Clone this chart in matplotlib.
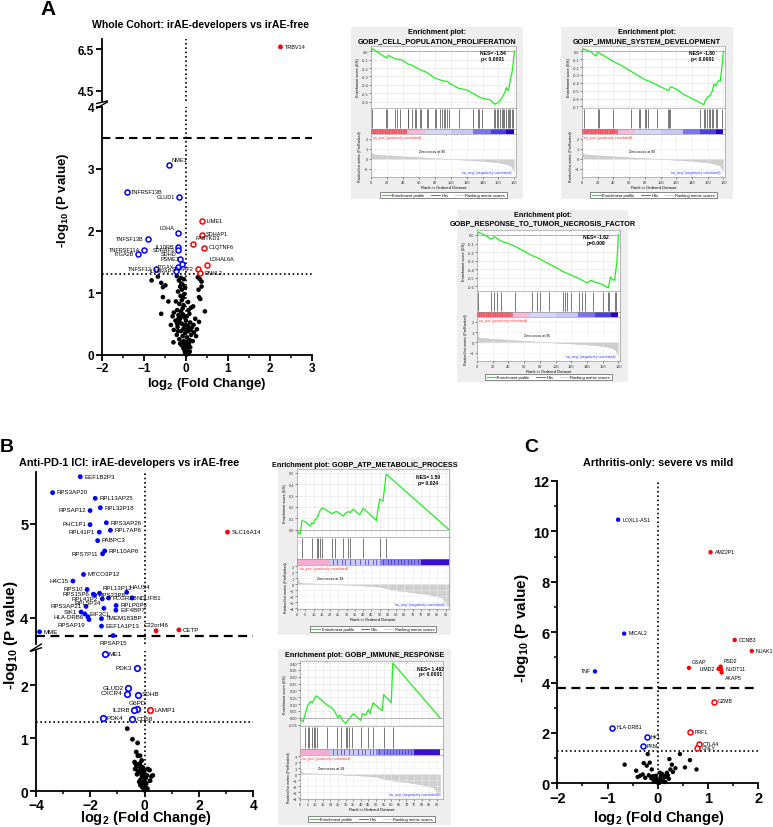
import numpy as np
import matplotlib.pyplot as plt
from matplotlib.patches import Rectangle
from matplotlib.lines import Line2D

plt.rcParams['font.family'] = ['Liberation Sans', 'DejaVu Sans']
plt.rcParams['mathtext.fontset'] = 'custom'
plt.rcParams['mathtext.rm'] = 'Liberation Sans:bold'
plt.rcParams['mathtext.bf'] = 'Liberation Sans:bold'
plt.rcParams['mathtext.default'] = 'bf'

W, H = 773, 828
fig = plt.figure(figsize=(W / 100, H / 100), dpi=100)

BLUE = '#0000ff'
RED = '#ff0000'

# ---------------- data: panel A volcano (whole cohort) ----------------
a_top_genes = ['TRBV14']
a_top_x = [2.25]
a_top_y = [6.62]
a_dn_genes = ['NME1', 'TNFRSF13B', 'GLUD1', 'LDHA', 'TNFSF13B', 'IL10RB', 'TNFRSF11A',
              'SDHAF3', 'ITGA2B', 'SDHD', 'PSME1', 'ITGAX', 'TNFSF12', 'IL18RAP']
a_dn_x = [-0.40, -1.41, -0.16, -0.20, -0.90, -0.19, -0.99, -0.18, -1.15, -0.15, -0.10, -0.20, -0.71, -0.25]
a_dn_y = [3.06, 2.63, 2.55, 1.96, 1.87, 1.74, 1.69, 1.69, 1.63, 1.54, 1.46, 1.41, 1.38, 1.35]
a_up_genes = ['LIME1', 'SDHAP1', 'FASTKD3', 'C1QTNF6', 'LDHAL6A', 'SDHAF2', 'PIWIL2']
a_up_x = [0.39, 0.37, 0.16, 0.44, 0.49, 0.29, 0.33]
a_up_y = [2.16, 1.94, 1.79, 1.73, 1.45, 1.38, 1.32]
a_ns_x = [-0.82, -0.67, -0.59, -0.22, -0.12, -0.05, 0.33, 0.37, -0.17, 0.28,
          -0.55, -0.49, -0.14, -0.10, -0.08, -0.19, 0.37, 0.30, -0.02,
          -0.55, -0.42, 0.31, 0.34, -0.13, -0.10, -0.07, -0.16, 0.05, -0.04,
          -0.59, -0.29, 0.45, 0.12, 0.17, -0.21, -0.12, -0.08, 0.02, -0.18, -0.32, 0.08, -0.06,
          0.31, -0.36, -0.25, -0.20, -0.14, -0.10, -0.06, 0.00, 0.04, 0.10, 0.14, 0.22, 0.26, -0.29, -0.03,
          -0.30, 0.19, -0.22, -0.16, -0.12, -0.08, -0.05, -0.02, 0.02, 0.05, 0.08, 0.12, 0.16, -0.19, 0.24, -0.10,
          -0.10, -0.06, -0.03, 0.00, 0.02, 0.04, 0.07, -0.14, 0.10, -0.01, 0.01, -0.02, 0.03, 0.06, -0.05, 0.09,
          -0.15, -0.18, -0.13, 0.06, -0.24, -0.11, 0.07, -0.07, 0.00, 0.03, -0.04, 0.11, -0.21, 0.18]
a_ns_y = [1.20, 1.26, 1.16, 1.27, 1.24, 1.22, 1.22, 1.18, 1.20, 1.25,
          1.09, 1.12, 1.10, 1.05, 1.13, 1.02, 1.10, 1.05, 1.08,
          0.93, 0.86, 0.93, 0.90, 0.95, 0.88, 0.92, 0.82, 0.85, 0.98,
          0.66, 0.68, 0.70, 0.76, 0.78, 0.72, 0.70, 0.75, 0.62, 0.64, 0.62, 0.66, 0.80,
          0.53, 0.48, 0.55, 0.45, 0.58, 0.50, 0.42, 0.55, 0.47, 0.52, 0.44, 0.58, 0.41, 0.40, 0.60,
          0.20, 0.36, 0.32, 0.25, 0.38, 0.30, 0.22, 0.35, 0.28, 0.38, 0.24, 0.32, 0.22, 0.38, 0.30, 0.20,
          0.15, 0.10, 0.05, 0.02, 0.08, 0.14, 0.18, 0.18, 0.12, 0.12, 0.00, 0.03, 0.06, 0.02, 0.17, 0.05,
          0.52, 0.58, 0.62, 0.72, 0.86, 1.15, 0.44, 0.65, 0.40, 0.20, 0.48, 0.40, 0.50, 0.48]

# ---------------- data: panel B volcano (anti-PD-1) ----------------
b_top_dn_genes = ['EEF1B2P3', 'RPS3AP20', 'RPL13AP25', 'RPSAP12', 'RPL32P18', 'PHC1P1', 'RPS3AP26',
                  'RPL41P1', 'RPL7AP6', 'PABPC3', 'RPL10AP6', 'RPS7P11', 'MTCO3P12', 'H4C15', 'RPS10',
                  'RPL13P12', 'HAUS4', 'RPS15P6', 'RPS23P8', 'NDUFB1', 'RPL41P2', 'FCGR2B', 'RPS3AP21',
                  'RPL5P34', 'RPLP0P6', 'EIF4BP7', 'SIK1', 'EIF3CL', 'HLA-DRB6', 'TMEM183BP', 'RPSAP19',
                  'EEF1A1P13', 'MME', 'RPSAP15']
b_top_dn_x = [-2.37, -3.39, -1.82, -2.01, -1.63, -2.01, -1.41, -1.67, -1.26, -1.73, -1.47, -1.55,
              -2.25, -2.64, -2.12, -1.66, -0.66, -1.89, -1.84, -0.46, -1.56, -1.33, -2.16, -1.50,
              -1.05, -1.06, -2.34, -2.20, -2.09, -1.59, -2.05, -1.59, -3.87, -1.16]
b_top_dn_y = [5.50, 5.33, 5.27, 5.14, 5.17, 4.99, 5.01, 4.91, 4.93, 4.82, 4.71, 4.68, 4.46, 4.39,
              4.30, 4.26, 4.27, 4.25, 4.24, 4.21, 4.20, 4.21, 4.12, 4.10, 4.13, 4.08, 4.06, 4.04,
              4.01, 3.99, 3.98, 3.91, 3.85, 3.81]
b_top_up_genes = ['C22orf46', 'CETP', 'SLC16A14']
b_top_up_x = [0.42, 1.26, 3.05]
b_top_up_y = [3.86, 3.87, 4.91]
b_dn_genes = ['ME1', 'PDK3', 'GLUD2', 'CXCR4', 'SDHB', 'G6PD', 'IL2RB', 'PDK4', 'CD68']
b_dn_x = [-1.47, -0.30, -0.61, -0.66, -0.26, -0.28, -0.39, -1.55, -0.45]
b_dn_y = [2.58, 2.32, 1.94, 1.84, 1.82, 1.55, 1.53, 1.38, 1.36]
b_up_genes = ['LAMP1']
b_up_x = [0.20]
b_up_y = [1.53]
b_ns_x = [-0.64, -0.45, -0.26, -0.31, -0.25, -0.17, -0.37, -0.33, -0.30, -0.22, -0.14, -0.35,
          -0.24, -0.19, -0.28, -0.10, -0.05, -0.08, -0.15, -0.20, -0.12, -0.02, -0.06, -0.03,
          -0.09, 0.00, -0.04, 0.04, 0.08, -0.14, -0.18, -0.11, -0.02, -0.07, 0.06, -0.01, -0.16,
          0.02, 0.25, 0.30, 0.18, 0.12, 0.20, 0.10]
b_ns_y = [1.18, 0.98, 0.91, 0.74, 0.67, 0.67, 0.55, 0.52, 0.48, 0.47, 0.47, 0.42,
          0.38, 0.36, 0.32, 0.30, 0.28, 0.25, 0.22, 0.18, 0.15, 0.20, 0.10, 0.05,
          0.08, 0.02, 0.14, 0.25, 0.30, 0.40, 0.52, 0.58, 0.38, 0.45, 0.15, 0.33, 0.12,
          0.10, 0.28, 0.30, 0.40, 0.42, 0.20, 0.05]

# ---------------- data: panel C volcano (arthritis-only) ----------------
c_top_dn_genes = ['LOXL1-AS1', 'MICAL2', 'TNF']
c_top_dn_x = [-0.79, -0.67, -1.25]
c_top_dn_y = [10.46, 5.94, 4.44]
c_top_up_genes = ['AMZ2P1', 'CCNB3', 'NUAK1', 'PSD2', 'GSAP', 'LIMD2', 'NUDT11', 'AKAP5']
c_top_up_x = [1.05, 1.53, 1.87, 1.25, 0.62, 1.21, 1.26, 1.27]
c_top_up_y = [9.17, 5.69, 5.25, 4.63, 4.58, 4.54, 4.51, 4.40]
c_dn_genes = ['HLA-DRB1', 'HK1', 'PKM']
c_dn_x = [-0.91, -0.22, -0.30]
c_dn_y = [2.21, 1.84, 1.47]
c_up_genes = ['GZMB', 'PRF1', 'CTLA4', 'GNLY']
c_up_x = [1.12, 0.64, 0.81, 0.79]
c_up_y = [3.24, 2.02, 1.55, 1.40]
c_ns_x = [-0.20, -0.66, -0.43, 0.44, 0.23, 0.54, 0.64, 0.77, 0.28, -0.30, -0.28, -0.22, -0.16,
          -0.12, -0.35, -0.25, -0.18, -0.10, -0.05, -0.08, -0.02, 0.00, 0.03, 0.05, 0.08, 0.12,
          0.15, 0.18, 0.10, 0.20, 0.25, 0.30, 0.35, 0.04, -0.04, 0.15, -0.13, 0.06, 0.22, -0.40]
c_ns_y = [1.16, 0.74, 0.50, 1.16, 0.96, 0.63, 0.92, 0.55, 0.74, 0.35, 0.80, 0.70, 0.82,
          0.55, 0.30, 0.22, 0.32, 0.28, 0.18, 0.08, 0.04, 0.10, 0.02, 0.15, 0.38, 0.30,
          0.25, 0.42, 0.12, 0.32, 0.55, 0.45, 0.60, 0.42, 0.30, 0.05, 0.20, 0.28, 0.18, 0.25]

# label placement (style, not data)
a_side = {'TRBV14': 'r', 'NME1': 'ur', 'TNFRSF13B': 'r', 'GLUD1': 'l', 'LDHA': 'ul', 'TNFSF13B': 'l',
          'IL10RB': 'l', 'TNFRSF11A': 'l', 'SDHAF3': 'l', 'ITGA2B': 'l', 'SDHD': 'ul', 'PSME1': 'ul',
          'ITGAX': 'l', 'TNFSF12': 'l', 'IL18RAP': 'l', 'LIME1': 'r', 'SDHAP1': 'r', 'FASTKD3': 'ur',
          'C1QTNF6': 'r', 'LDHAL6A': 'ur', 'SDHAF2': 'l', 'PIWIL2': 'r'}
b_left = {'RPSAP12', 'PHC1P1', 'RPL41P1', 'RPS7P11', 'H4C15', 'RPS10', 'RPS15P6', 'RPL41P2',
          'RPS3AP21', 'SIK1', 'HLA-DRB6', 'PDK3', 'GLUD2', 'CXCR4', 'IL2RB'}
b_special = {'RPL13P12': 'ur', 'HAUS4': 'ur', 'RPL5P34': 'ul', 'RPSAP15': 'b', 'C22orf46': 'a',
             'G6PD': 'a', 'RPSAP19': 'dl', 'HLA-DRB6': 'l'}
c_side = {'TNF': 'l', 'LIMD2': 'l', 'PSD2': 'ur', 'GSAP': 'ur', 'AKAP5': 'dr'}

# ---------------- data: GSEA plots ----------------
a_rank_x = [0, 3, 10, 30, 60, 95, 120, 140, 160, 170, 176, 179, 180]
a_rank_y = [0.6, 0.45, 0.4, 0.3, 0.15, 0.0, -0.1, -0.2, -0.35, -0.5, -0.7, -1.2, -1.3]
a_bar_edges = [0, 45, 68, 100, 128, 150, 170, 180]
a_bar_stripes = [2, 5, 8, 11, 14, 17, 20, 23, 26, 29, 32, 35, 38, 41, 44]
b_rank_x = [0, 1, 3, 20, 40, 50, 60, 70, 80, 88, 91, 92]
b_rank_y = [1.3, 0.4, 0.2, 0.05, -0.2, -0.4, -1.0, -1.3, -1.7, -2.2, -3.5, -3.6]
b_bar_edges = [0, 20, 50, 75, 92]
b_bar_stripes = [22, 24, 27, 29, 32, 35, 38, 41, 43, 46, 48, 52, 55, 57, 59, 61, 63, 65, 67, 69, 71, 73]

g1_es_x = [0, 2, 10, 19, 20, 22, 30, 38, 40, 46, 52, 62, 70, 80, 90, 96, 100, 110, 120, 128, 135,
           140, 150, 155, 157, 160, 164, 168, 170, 172, 173, 175, 177, 178, 180]
g1_es_y = [0.0, 0.03, -0.02, -0.08, -0.07, -0.05, -0.09, -0.10, -0.11, -0.15, -0.17, -0.22, -0.25,
           -0.32, -0.35, -0.36, -0.39, -0.44, -0.46, -0.50, -0.54, -0.56, -0.58, -0.63, -0.62, -0.61,
           -0.56, -0.49, -0.43, -0.47, -0.45, -0.33, -0.25, -0.18, 0.0]
g1_hits = [1, 19, 20, 30, 33, 37, 46, 47, 52, 55, 57, 62, 63, 70, 72, 80, 82, 87, 89, 91, 93, 95, 98,
           110, 128, 134, 136, 139, 154, 156, 158, 160, 162, 164, 166, 167, 169, 172, 173, 175, 177, 178]
g2_es_x = [0, 2, 10, 18, 20, 30, 40, 50, 60, 70, 80, 90, 100, 108, 110, 113, 120, 130, 140, 148, 155,
           157, 160, 163, 166, 168, 170, 172, 174, 176, 178, 180]
g2_es_y = [0.0, 0.03, 0.0, -0.06, -0.01, -0.07, -0.13, -0.18, -0.24, -0.30, -0.36, -0.40, -0.45, -0.49,
           -0.50, -0.45, -0.48, -0.55, -0.60, -0.64, -0.68, -0.62, -0.58, -0.56, -0.50, -0.42, -0.44,
           -0.40, -0.37, -0.38, -0.2, 0.0]
g2_hits = [2, 20, 21, 40, 62, 73, 74, 80, 82, 84, 96, 110, 111, 112, 150, 155, 157, 159, 161, 163,
           165, 167, 170, 172, 178]
g3_es_x = [0, 2, 10, 18, 22, 30, 40, 50, 60, 70, 80, 90, 100, 110, 120, 130, 140, 145, 150, 160, 167,
           170, 172, 175, 178, 180]
g3_es_y = [0.0, 0.03, 0.0, -0.05, -0.02, -0.07, -0.10, -0.14, -0.19, -0.24, -0.28, -0.33, -0.38, -0.43,
           -0.47, -0.51, -0.56, -0.53, -0.55, -0.58, -0.62, -0.49, -0.52, -0.53, -0.32, 0.0]
g3_hits = [1, 18, 22, 26, 31, 48, 70, 76, 80, 91, 110, 112, 115, 120, 130, 134, 138, 148, 160, 167,
           168, 175, 177]
g4_es_x = [0, 1, 2, 3, 5, 8, 9, 10, 11, 12, 14, 15, 17, 21, 22, 24, 28, 29, 31, 32, 34, 38, 40, 48,
           50, 52, 54, 92]
g4_es_y = [0.0, -0.03, -0.04, 0.08, 0.07, 0.03, 0.06, 0.05, 0.09, 0.10, 0.17, 0.19, 0.18, 0.14, 0.15,
           0.16, 0.12, 0.14, 0.16, 0.15, 0.18, 0.13, 0.19, 0.08, 0.27, 0.25, 0.49, 0.0]
g4_hits = [3, 9, 12, 13, 14, 15, 21, 23, 28, 31, 32, 40, 50, 54]
g5_es_x = [0, 1, 2, 5, 7, 8, 10, 11, 13, 18, 20, 22, 25, 26, 28, 30, 35, 38, 40, 41, 43, 45, 46, 48,
           52, 54, 55, 60, 61, 92]
g5_es_y = [0.0, -0.02, -0.03, 0.09, 0.12, 0.11, 0.15, 0.16, 0.14, 0.09, 0.08, 0.06, 0.0, 0.02, -0.02,
           -0.04, 0.03, 0.0, -0.02, 0.03, 0.02, 0.06, 0.03, 0.11, 0.07, 0.05, 0.17, 0.11, 0.40, 0.0]
g5_hits = [3, 5, 6, 8, 9, 10, 11, 18, 24, 27, 30, 31, 32, 34, 40, 45, 48, 55, 61]

a_bar_colors = ['#f56d7c', '#f6b9dc', '#d8d6f7', '#c9c7f5', '#7b74ec', '#4a3de2', '#2400c8']
b_bar_colors = ['#f6abd2', '#cccbf4', '#8c86ea', '#3a10d0']


def add_ax(x0, y0, x1, y1):
    return fig.add_axes([x0 / W, 1 - y1 / H, (x1 - x0) / W, (y1 - y0) / H])


def ftext(x, y, s, **kw):
    return fig.text(x / W, 1 - y / H, s, **kw)


def style_volcano(ax, fs, bottom=True):
    ax.spines['top'].set_visible(False)
    ax.spines['right'].set_visible(False)
    ax.spines['left'].set_linewidth(1.3)
    ax.spines['bottom'].set_linewidth(1.3)
    if not bottom:
        ax.spines['bottom'].set_visible(False)
        ax.tick_params(axis='x', which='both', bottom=False, labelbottom=False)
    ax.tick_params(which='major', width=1.3, length=4, labelsize=fs, pad=1.5)
    ax.tick_params(which='minor', width=1.1, length=2.5)
    for t in ax.get_xticklabels() + ax.get_yticklabels():
        t.set_fontweight('bold')
    ax.patch.set_alpha(0)


def dots(ax, x, y, color, filled, s, lw=1.1):
    if filled:
        ax.scatter(x, y, s=s, c=color, edgecolors='none', zorder=3, clip_on=False)
    else:
        ax.scatter(x, y, s=s, facecolors='white', edgecolors=color, linewidths=lw, zorder=3, clip_on=False)


def labels(ax, genes, x, y, fs, side):
    offs = {'r': (3, 0.5, 'left', 'center'), 'l': (-3, 0.5, 'right', 'center'),
            'ur': (2, 2.5, 'left', 'bottom'), 'ul': (-2, 2.5, 'right', 'bottom'),
            'dr': (2.5, -1.5, 'left', 'top'), 'dl': (-2.5, -1.5, 'right', 'top'),
            'b': (0, -3, 'center', 'top'), 'a': (0, 3, 'center', 'bottom')}
    for g, xi, yi in zip(genes, x, y):
        dx, dy, ha, va = offs[side(g)]
        ax.annotate(g, (xi, yi), xytext=(dx, dy), textcoords='offset points', fontsize=fs,
                    ha=ha, va=va, zorder=4, annotation_clip=False)


def break_marks(ax_low, ax_high):
    kw = dict(color='k', lw=1.0, clip_on=False)
    ax_low.plot([-0.025, 0.025], [0.995, 1.02], transform=ax_low.transAxes, **kw)
    ax_high.plot([-0.025, 0.025], [-0.04, 0.0], transform=ax_high.transAxes, **kw)


DOT = (0, (1, 1.6))
DASH = (0, (4, 2.5))

# ---------------- panel A volcano ----------------
axA = add_ax(102, 108, 312, 355.7)
axA2 = add_ax(102, 40, 312, 102)
axA.set_xlim(-2, 3); axA.set_ylim(0, 4)
axA2.set_xlim(-2, 3); axA2.set_ylim(4, 7)
axA.set_xticks([-2, -1, 0, 1, 2, 3]); axA.set_xticks(np.arange(-2, 3.01, 0.5), minor=True)
axA.set_yticks([0, 1, 2, 3, 4])
axA2.set_yticks([4.5, 6.5]); axA2.set_yticklabels(['4.5', '6.5'])
for a in (axA, axA2):
    a.axvline(0, color='k', lw=1.2, ls=DOT, zorder=1)
axA.axhline(1.3, color='k', lw=1.2, ls=DOT, zorder=1)
axA.axhline(3.5, color='k', lw=1.5, ls=DASH, zorder=1)
dots(axA, a_ns_x, a_ns_y, 'k', True, 11)
dots(axA, a_dn_x, a_dn_y, BLUE, False, 13)
dots(axA, a_up_x, a_up_y, RED, False, 13)
dots(axA2, a_top_x, a_top_y, RED, True, 12)
labels(axA, a_dn_genes, a_dn_x, a_dn_y, 4.0, lambda g: a_side[g])
labels(axA, a_up_genes, a_up_x, a_up_y, 4.0, lambda g: a_side[g])
labels(axA2, a_top_genes, a_top_x, a_top_y, 4.0, lambda g: a_side[g])
style_volcano(axA, 8.5)
style_volcano(axA2, 8.5, bottom=False)
break_marks(axA, axA2)
ftext(200, 25, 'Whole Cohort: irAE-developers vs irAE-free', ha='center', va='center',
      fontsize=7.6, fontweight='bold')
ftext(63, 200, r'-log$_{10}$ (P value)', ha='center', va='center', rotation=90,
      fontsize=9.5, fontweight='bold')
ftext(207, 384, r'log$_{2}$ (Fold Change)', ha='center', va='center', fontsize=9.5, fontweight='bold')
ftext(40, 15, 'A', fontsize=15, fontweight='bold', va='baseline')

# ---------------- panel B volcano ----------------
axB = add_ax(36, 651.6, 253.3, 792.3)
axB2 = add_ax(36, 473, 253.3, 645)
axB.set_xlim(-4, 4); axB.set_ylim(0, 2.65)
axB2.set_xlim(-4, 4); axB2.set_ylim(3.72, 5.55)
axB.set_xticks([-4, -2, 0, 2, 4]); axB.set_xticks(np.arange(-4, 4.01, 1), minor=True)
axB.set_yticks([0, 1, 2])
axB2.set_yticks([4, 5])
for a in (axB, axB2):
    a.axvline(0, color='k', lw=1.2, ls=DOT, zorder=1)
axB.axhline(1.3, color='k', lw=1.2, ls=DOT, zorder=1)
axB2.axhline(3.8, color='k', lw=1.6, ls=DASH, zorder=1)
dots(axB, b_ns_x, b_ns_y, 'k', True, 12)
dots(axB, b_dn_x, b_dn_y, BLUE, False, 16, 1.2)
dots(axB, b_up_x, b_up_y, RED, False, 16, 1.2)
dots(axB2, b_top_dn_x, b_top_dn_y, BLUE, True, 12)
dots(axB2, b_top_up_x, b_top_up_y, RED, True, 12)


def b_side(g):
    if g in b_special:
        return b_special[g]
    return 'l' if g in b_left else 'r'


labels(axB2, b_top_dn_genes, b_top_dn_x, b_top_dn_y, 4.4, b_side)
labels(axB2, b_top_up_genes, b_top_up_x, b_top_up_y, 4.4, b_side)
labels(axB, b_dn_genes, b_dn_x, b_dn_y, 4.6, b_side)
labels(axB, b_up_genes, b_up_x, b_up_y, 4.6, b_side)
style_volcano(axB, 10)
style_volcano(axB2, 10.5, bottom=False)
axB.tick_params(axis='x', pad=0.5)
break_marks(axB, axB2)
ftext(129, 463, 'Anti-PD-1 ICI: irAE-developers vs irAE-free', ha='center', va='center',
      fontsize=7.8, fontweight='bold')
ftext(11, 635, r'-log$_{10}$ (P value)', ha='center', va='center', rotation=90,
      fontsize=11, fontweight='bold')
ftext(146, 818, r'log$_{2}$ (Fold Change)', ha='center', va='center', fontsize=10.5, fontweight='bold')
ftext(0, 452, 'B', fontsize=14, fontweight='bold', va='baseline')

# ---------------- panel C volcano ----------------
axC = add_ax(557.3, 481.9, 758.3, 784.3)
axC.set_xlim(-2, 2); axC.set_ylim(0, 12)
axC.set_xticks([-2, -1, 0, 1, 2]); axC.set_xticks(np.arange(-2, 2.01, 0.5), minor=True)
axC.set_yticks(range(0, 13, 2)); axC.set_yticks(range(0, 13), minor=True)
axC.axvline(0, color='k', lw=1.2, ls=DOT, zorder=1)
axC.axhline(1.3, color='k', lw=1.2, ls=DOT, zorder=1)
axC.axhline(3.8, color='k', lw=1.6, ls=DASH, zorder=1)
dots(axC, c_ns_x, c_ns_y, 'k', True, 10)
dots(axC, c_dn_x, c_dn_y, BLUE, False, 13)
dots(axC, c_up_x, c_up_y, RED, False, 13)
dots(axC, c_top_dn_x, c_top_dn_y, BLUE, True, 10)
dots(axC, c_top_up_x, c_top_up_y, RED, True, 10)
cs = lambda g: c_side.get(g, 'r')
for gl, xl, yl in [(c_top_dn_genes, c_top_dn_x, c_top_dn_y), (c_top_up_genes, c_top_up_x, c_top_up_y),
                   (c_dn_genes, c_dn_x, c_dn_y), (c_up_genes, c_up_x, c_up_y)]:
    labels(axC, gl, xl, yl, 3.8, cs)
style_volcano(axC, 10.5)
ftext(658, 463, 'Arthritis-only: severe vs mild', ha='center', va='center', fontsize=7.8,
      fontweight='bold')
ftext(522, 628, r'-log$_{10}$ (P value)', ha='center', va='center', rotation=90,
      fontsize=11, fontweight='bold')
ftext(659, 818, r'log$_{2}$ (Fold Change)', ha='center', va='center', fontsize=10.5, fontweight='bold')
ftext(524, 452, 'C', fontsize=14, fontweight='bold', va='baseline')


# ---------------- GSEA enrichment plots ----------------
def thin(ax):
    for s in ax.spines.values():
        s.set_linewidth(0.4)
        s.set_color('#888888')
    ax.tick_params(labelsize=2.8, length=1.2, width=0.4, pad=0.8, colors='#333333')


def gsea(box, xcols, rows, title, title_y, es_x, es_y, es_ylim, es_ticks, es_labels, hits,
         rk_x, rk_y, rk_ylim, rk_ticks, edges, colors, stripes, stripe_col, xlim, xticks,
         nes, nes_x, zero_txt, zero_x, legend_y):
    bx0, by0, bx1, by1 = box
    fig.add_artist(Rectangle((bx0 / W, 1 - by1 / H), (bx1 - bx0) / W, (by1 - by0) / H,
                             transform=fig.transFigure, facecolor='#eeeeee', edgecolor='none',
                             zorder=-5))
    ftext((bx0 + bx1) / 2, title_y, title, ha='center', va='center', fontsize=5.2,
          fontweight='bold', linespacing=1.25)
    x0, x1 = xcols
    e0, e1, h1, c1, r1 = rows
    es = add_ax(x0, e0, x1, e1)
    es.plot(es_x, es_y, color='#22ee22', lw=0.9)
    es.axhline(0, color='#999999', lw=0.5)
    es.set_xlim(*xlim); es.set_ylim(*es_ylim)
    es.set_xticks(xticks); es.set_xticklabels([])
    es.set_yticks(es_ticks); es.set_yticklabels(es_labels)
    es.grid(True, color='#e4e4e4', lw=0.4)
    es.set_ylabel('Enrichment score (ES)', fontsize=2.8, labelpad=1)
    es.text(nes_x, 0.93, nes, transform=es.transAxes, ha='center', va='top', fontsize=3.6,
            fontweight='bold', linespacing=1.2)
    thin(es)
    hx = add_ax(x0, e1, x1, h1)
    hx.vlines(hits, 0.05, 0.95, color='#555555', lw=0.55)
    hx.set_xlim(*xlim); hx.set_ylim(0, 1)
    hx.set_xticks([]); hx.set_yticks([])
    thin(hx)
    cb = add_ax(x0, h1, x1, c1)
    for i in range(len(colors)):
        cb.axvspan(edges[i], edges[i + 1], color=colors[i], lw=0)
    cb.vlines(stripes, 0, 1, color=stripe_col, lw=0.45)
    cb.set_xlim(*xlim); cb.set_ylim(0, 1)
    cb.set_xticks([]); cb.set_yticks([])
    thin(cb)
    rk = add_ax(x0, c1, x1, r1)
    rk.fill_between(rk_x, rk_y, 0, color='#cfcfcf', lw=0.3, edgecolor='#bbbbbb')
    rk.set_xlim(*xlim); rk.set_ylim(*rk_ylim)
    rk.set_xticks(xticks); rk.set_yticks(rk_ticks)
    rk.grid(True, color='#ececec', lw=0.4)
    rk.set_xlabel('Rank in Ordered Dataset', fontsize=3, labelpad=1)
    rk.set_ylabel('Ranked list metric (PreRanked)', fontsize=2.6, labelpad=1)
    rk.text(0.01, 0.97, "'na_pos' (positively correlated)", transform=rk.transAxes, color='#ff3333',
            fontsize=2.6, va='top')
    rk.text(zero_x, 0.1 * (rk_ylim[1] - rk_ylim[0]) + 0.2, zero_txt, fontsize=2.6)
    rk.text(0.97, 0.06, "'na_neg' (negatively correlated)", transform=rk.transAxes, color='#3333ff',
            fontsize=2.6, ha='right', va='bottom')
    thin(rk)
    handles = [Line2D([], [], color='#22ee22', lw=0.9), Line2D([], [], color='#333333', lw=0.5),
               Line2D([], [], color='#bbbbbb', lw=0.5)]
    leg = fig.legend(handles, ['Enrichment profile', 'Hits', 'Ranking metric scores'], loc='center',
                     bbox_to_anchor=((x0 + x1) / 2 / W, 1 - legend_y / H), ncol=3, fontsize=2.9,
                     frameon=True, fancybox=False, edgecolor='#333333', framealpha=1,
                     handlelength=2.2, columnspacing=1.6, borderpad=0.35, handletextpad=0.4)
    leg.get_frame().set_linewidth(0.4)


a_xt = list(range(0, 181, 20))
a_rk_ticks = [2, 1, 0, -1]
a_rk_lim = (-1.8, 2.45)
b_xt = list(range(0, 91, 5))
b_rk_ticks = [3, 2, 1, 0, -1, -2, -3, -4]
b_rk_lim = (-4.1, 3.2)

gsea((351, 28, 523, 200), (371, 516), (47, 109, 130, 135, 178),
     'Enrichment plot:\nGOBP_CELL_POPULATION_PROLIFERATION', 37,
     g1_es_x, g1_es_y, (-0.675, 0.063), [0, -0.1, -0.2, -0.3, -0.4, -0.5, -0.6],
     ['0.0', '-0.1', '-0.2', '-0.3', '-0.4', '-0.5', '-0.6'], g1_hits,
     a_rank_x, a_rank_y, a_rk_lim, a_rk_ticks, a_bar_edges, a_bar_colors, a_bar_stripes, '#ff3a4a',
     (0, 182), a_xt, 'NES= -1.84\np< 0.0001', 0.84, 'Zero cross at 95', 60, 196)
gsea((561, 28, 733, 200), (582, 725), (47, 109, 130, 135, 178),
     'Enrichment plot:\nGOBP_IMMUNE_SYSTEM_DEVELOPMENT', 37,
     g2_es_x, g2_es_y, (-0.72, 0.067), [0, -0.1, -0.2, -0.3, -0.4, -0.5, -0.6, -0.7],
     ['0.0', '-0.1', '-0.2', '-0.3', '-0.4', '-0.5', '-0.6', '-0.7'], g2_hits,
     a_rank_x, a_rank_y, a_rk_lim, a_rk_ticks, a_bar_edges, a_bar_colors, a_bar_stripes, '#ff3a4a',
     (0, 182), a_xt, 'NES= -1.80\np< 0.0001', 0.84, 'Zero cross at 95', 60, 196)
gsea((457, 211, 628, 383), (477, 620), (231, 292, 313, 318, 362),
     'Enrichment plot:\nGOBP_RESPONSE_TO_TUMOR_NECROSIS_FACTOR', 220,
     g3_es_x, g3_es_y, (-0.655, 0.058), [0, -0.1, -0.2, -0.3, -0.4, -0.5, -0.6],
     ['0.0', '-0.1', '-0.2', '-0.3', '-0.4', '-0.5', '-0.6'], g3_hits,
     a_rank_x, a_rank_y, a_rk_lim, a_rk_ticks, a_bar_edges, a_bar_colors, a_bar_stripes, '#ff3a4a',
     (0, 182), a_xt, 'NES= -1.62\np=0.009', 0.83, 'Zero cross at 95', 60, 378)
gsea((278, 459, 451, 636), (297, 449), (470, 538, 560, 566, 610),
     'Enrichment plot: GOBP_ATP_METABOLIC_PROCESS', 466,
     g4_es_x, g4_es_y, (-0.065, 0.535), [0, 0.1, 0.2, 0.3, 0.4, 0.5],
     ['0.0', '0.1', '0.2', '0.3', '0.4', '0.5'], g4_hits,
     b_rank_x, b_rank_y, b_rk_lim, b_rk_ticks, b_bar_edges, b_bar_colors, b_bar_stripes, '#3a20d0',
     (0, 92), b_xt, 'NES= 1.50\np= 0.024', 0.86, 'Zero cross at 19', 12, 630)
gsea((278, 650, 451, 826), (300, 443), (662, 727, 750, 756, 800),
     'Enrichment plot: GOBP_IMMUNE_RESPONSE', 656,
     g5_es_x, g5_es_y, (-0.06, 0.415), [-0.05, 0, 0.05, 0.1, 0.15, 0.2, 0.25, 0.3, 0.35, 0.4],
     ['-0.05', '0.00', '0.05', '0.10', '0.15', '0.20', '0.25', '0.30', '0.35', '0.40'], g5_hits,
     b_rank_x, b_rank_y, b_rk_lim, b_rk_ticks, b_bar_edges, b_bar_colors, b_bar_stripes, '#3a20d0',
     (0, 94), b_xt, 'NES= 1.482\np< 0.0001', 0.91, 'Zero cross at 19', 12, 820)

fig.savefig('out.png', dpi=100)
